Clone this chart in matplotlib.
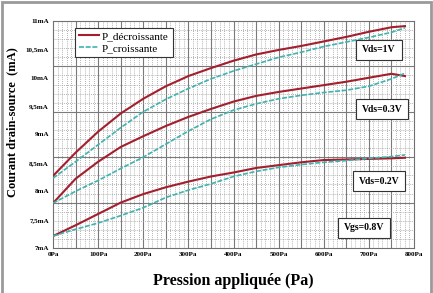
import numpy as np
import matplotlib
matplotlib.use("Agg")
import matplotlib.pyplot as plt
from matplotlib.patches import Rectangle

# pressure (Pa)
pression = [0, 50, 100, 150, 200, 250, 300, 350, 400, 450, 500, 550, 600, 650, 700, 750, 780]

# Vds = 1V
vds1_dec = [8.27, 8.68, 9.05, 9.37, 9.63, 9.85, 10.03, 10.17, 10.30, 10.41, 10.49, 10.56, 10.64, 10.72, 10.81, 10.89, 10.91]
vds1_cro = [8.23, 8.52, 8.82, 9.12, 9.40, 9.62, 9.81, 9.98, 10.12, 10.24, 10.36, 10.45, 10.55, 10.63, 10.71, 10.80, 10.88]

# Vds = 0.3V
vds03_dec = [7.79, 8.22, 8.52, 8.78, 8.97, 9.15, 9.31, 9.45, 9.58, 9.68, 9.75, 9.81, 9.87, 9.93, 10.00, 10.07, 10.03]
vds03_cro = [7.79, 8.00, 8.19, 8.40, 8.60, 8.83, 9.06, 9.27, 9.43, 9.54, 9.63, 9.69, 9.74, 9.78, 9.85, 9.98, 10.08]

# Vds = 0.2V
vds02_dec = [7.21, 7.40, 7.60, 7.80, 7.95, 8.07, 8.17, 8.26, 8.33, 8.41, 8.46, 8.51, 8.55, 8.56, 8.57, 8.58, 8.59]
vds02_cro = [7.21, 7.33, 7.44, 7.57, 7.71, 7.89, 8.02, 8.13, 8.26, 8.35, 8.42, 8.47, 8.51, 8.54, 8.58, 8.61, 8.64]

yticks = [7, 7.5, 8, 8.5, 9, 9.5, 10, 10.5, 11]
ylabels = ["7mA", "7,5mA", "8mA", "8,5mA", "9mA", "9,5mA", "10mA", "10,5mA", "11mA"]
xticks = [0, 100, 200, 300, 400, 500, 600, 700, 800]
xlabels = ["%dPa" % v for v in xticks]

red = "#a31f2e"
cyan = "#3fb3ad"
serif = "Liberation Serif"

fig = plt.figure(figsize=(4.33, 2.93), dpi=100)
ax = fig.add_axes([53 / 433, 45 / 293, 361 / 433, 227 / 293])
ax.set_xlim(0, 800)
ax.set_ylim(7, 11)

# grid: 16 x 5 major cells, dotted minor lines inside
for v in np.linspace(0, 800, 81)[1:-1]:
    if round(v) % 50 == 0:
        ax.axvline(v, color="#7a7a7a", lw=0.8, zorder=1)
    else:
        ax.axvline(v, color="#9a9a9a", lw=0.6, ls=(0, (1, 1.5)), zorder=1)
for i in range(1, 25):
    v = 7 + i * 4 / 25
    if i % 5 == 0:
        ax.axhline(v, color="#7a7a7a", lw=0.8, zorder=1)
    else:
        ax.axhline(v, color="#9a9a9a", lw=0.6, ls=(0, (1, 1.5)), zorder=1)

handles = []
for dec, cro in [(vds1_dec, vds1_cro), (vds03_dec, vds03_cro), (vds02_dec, vds02_cro)]:
    h1, = ax.plot(pression, dec, color=red, lw=1.5, zorder=3)
    h2, = ax.plot(pression, cro, color=cyan, lw=1.2, ls=(0, (3, 1)), zorder=3)
    handles = [h1, h2]

ax.set_xticks(xticks)
ax.set_xticklabels(xlabels, fontsize=5, fontweight="bold", family=serif)
ax.set_yticks(yticks)
ax.set_yticklabels(ylabels, fontsize=5, fontweight="bold", family=serif)
ax.tick_params(length=0, pad=3)
for s in ax.spines.values():
    s.set_color("#707070")
    s.set_linewidth(0.8)

ax.set_xlabel("Pression appliquée (Pa)", fontsize=11.5, fontweight="bold", family=serif)
ax.set_ylabel("Courant drain-source  (mA)", fontsize=9, fontweight="bold", family=serif)
ax.xaxis.set_label_coords(0.5, -0.145)
ax.yaxis.set_label_coords(-0.114, 0.555)
ax.xaxis.label.set_va("center")
ax.yaxis.label.set_va("center")

# legend
leg = ax.legend(handles, ["P_décroissante", "P_croissante"], loc="upper left",
                bbox_to_anchor=(0.045, 0.995), frameon=True, fancybox=False,
                prop={"family": serif, "size": 8}, handlelength=1.8,
                handletextpad=0.3, borderpad=0.35, labelspacing=0.2)
leg.get_frame().set_edgecolor("#333333")
leg.get_frame().set_linewidth(0.8)
leg.get_frame().set_alpha(1)
leg.set_zorder(6)

box = dict(boxstyle="square,pad=0.6", fc="white", ec="#333333", lw=0.8)
labels = [("Vds=1V", 379, 50), ("Vds=0.3V", 382, 109),
          ("Vds=0.2V", 379, 181), ("Vgs=0.8V", 364, 228)]
for txt, px, py in labels:
    fig.text(px / 433, 1 - py / 293, txt, ha="center", va="center",
             fontsize=7, fontweight="bold", family=serif, bbox=box, zorder=5)

# grey frame around the picture
fig.patches.append(Rectangle((0.004, -0.02), 0.991, 1.013, transform=fig.transFigure,
                             fill=False, ec="#9a9a9a", lw=2))

fig.savefig("out.png", dpi=100)
